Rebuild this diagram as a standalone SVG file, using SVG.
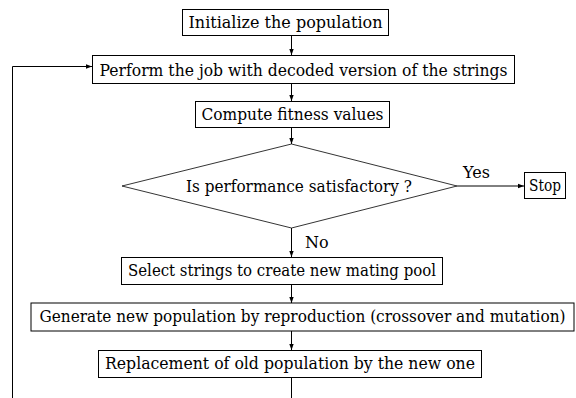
<svg xmlns="http://www.w3.org/2000/svg" width="576" height="398" viewBox="0 0 576 398">
<style>
.box{fill:#fff;stroke:#000;stroke-width:1}
text{font-family:'DejaVu Serif','Liberation Serif',serif;font-size:16px;fill:#000}
.t{text-anchor:middle}
.c{fill:none;stroke:#000;stroke-width:1}
</style>
<defs>
<marker id="ah" markerWidth="6" markerHeight="6" refX="6" refY="3" orient="auto" markerUnits="userSpaceOnUse">
<path d="M0,0.8 L6,3 L0,5.2 Z" fill="#000"/>
</marker>
</defs>
<rect width="576" height="398" fill="#fff"/>
<g id="connectors">
<line class="c" x1="291.5" y1="35" x2="291.5" y2="55" marker-end="url(#ah)"/>
<line class="c" x1="291.5" y1="83" x2="291.5" y2="101" marker-end="url(#ah)"/>
<line class="c" x1="291.5" y1="127" x2="291.5" y2="144" marker-end="url(#ah)"/>
<line class="c" x1="457" y1="186" x2="524" y2="186" stroke-width="1.4" marker-end="url(#ah)"/>
<line class="c" x1="291.5" y1="228" x2="291.5" y2="257" marker-end="url(#ah)"/>
<line class="c" x1="291.5" y1="284" x2="291.5" y2="303" marker-end="url(#ah)"/>
<line class="c" x1="291.5" y1="331" x2="291.5" y2="350" marker-end="url(#ah)"/>
<line class="c" x1="291.5" y1="377" x2="291.5" y2="398"/>
<polyline class="c" points="12.5,398 12.5,66.5 92,66.5" stroke="#444" marker-end="url(#ah)"/>
<text x="463" y="178">Yes</text>
<text x="305" y="248">No</text>
</g>
<g id="init">
<rect class="box" x="182.5" y="9.5" width="206" height="26"/>
<text class="t" x="285.5" y="28" textLength="194" lengthAdjust="spacingAndGlyphs">Initialize the population</text>
</g>
<g id="perform">
<rect class="box" x="92.5" y="55.5" width="422" height="28"/>
<text class="t" x="303.5" y="75.5" textLength="408" lengthAdjust="spacingAndGlyphs">Perform the job with decoded version of the strings</text>
</g>
<g id="compute">
<rect class="box" x="195.5" y="101.5" width="194" height="26"/>
<text class="t" x="292.5" y="120" textLength="182" lengthAdjust="spacingAndGlyphs">Compute fitness values</text>
</g>
<g id="decision">
<polygon points="291.5,144 457,186 291.5,228 122,186" fill="#fff" stroke="#000" stroke-width="0.8"/>
<text class="t" x="299" y="191.5" textLength="226" lengthAdjust="spacingAndGlyphs">Is performance satisfactory ?</text>
</g>
<g id="stop">
<rect class="box" x="524.5" y="172.5" width="41" height="26"/>
<text class="t" x="545" y="191" textLength="32" lengthAdjust="spacingAndGlyphs">Stop</text>
</g>
<g id="select">
<rect class="box" x="121.5" y="257.5" width="321" height="27"/>
<text class="t" x="282" y="276" textLength="308" lengthAdjust="spacingAndGlyphs">Select strings to create new mating pool</text>
</g>
<g id="generate">
<rect class="box" x="31" y="303" width="543" height="28" stroke="#666"/>
<text class="t" x="302.5" y="322" font-size="13.5" textLength="526" lengthAdjust="spacingAndGlyphs">Generate new population by reproduction (crossover and mutation)</text>
</g>
<g id="replace">
<rect class="box" x="98.5" y="350.5" width="383" height="27"/>
<text class="t" x="290" y="369" textLength="370" lengthAdjust="spacingAndGlyphs">Replacement of old population by the new one</text>
</g>
</svg>
